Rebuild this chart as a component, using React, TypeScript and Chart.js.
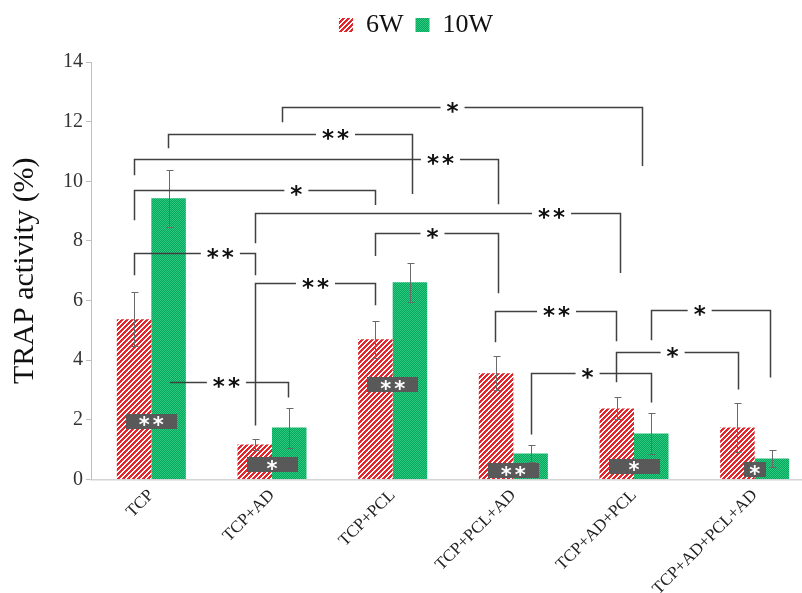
import React, { useEffect, useRef } from 'react';
import { Chart, registerables } from 'chart.js';

Chart.register(...registerables);

// ---------- data ----------
const categories = ['TCP', 'TCP+AD', 'TCP+PCL', 'TCP+PCL+AD', 'TCP+AD+PCL', 'TCP+AD+PCL+AD'];
const seriesNames = ['6W', '10W'];
const values6W = [5.37, 1.17, 4.7, 3.56, 2.38, 1.74];
const errors6W = [0.91, 0.17, 0.62, 0.57, 0.37, 0.82];
const values10W = [9.43, 1.74, 6.61, 0.87, 1.54, 0.7];
const errors10W = [0.95, 0.67, 0.65, 0.29, 0.7, 0.3];
const yTickValues = [0, 2, 4, 6, 8, 10, 12, 14];

// significance marks drawn inside the bars (grey boxes)
const markLabels = ['**', '*', '**', '**', '*', '*'];
const markValues = [1.95, 0.5, 3.17, 0.29, 0.44, 0.32];
const markSpans = [0.42, 0.42, 0.42, 0.42, 0.42, 0.18];

// comparison brackets (x positions in category units, y in data units)
const bracketLabels = ['*', '**', '**', '*', '**', '*', '**', '**', '**', '*', '*', '*', '**'];
const bracketStart = [1.086, 0.141, -0.141, -0.141, 0.862, 1.857, -0.141, 0.862, 2.852, 4.138, 3.847, 3.143, 0.158];
const bracketEnd = [4.063, 2.164, 2.869, 1.857, 3.881, 2.869, 0.862, 1.857, 3.847, 5.124, 4.859, 4.138, 1.136];
const bracketLevel = [12.49, 11.58, 10.74, 9.7, 8.93, 8.26, 7.59, 6.58, 5.64, 5.67, 4.26, 3.56, 3.26];
const bracketStartFoot = [11.98, 11.11, 10.2, 8.69, 7.92, 7.49, 6.85, 1.81, 4.6, 4.67, 3.26, 1.51, 3.26];
const bracketEndFoot = [10.51, 9.57, 9.23, 9.2, 6.92, 6.24, 6.85, 5.84, 4.63, 3.42, 3.02, 2.58, 2.75];
const bracketLabelAt = [2.496, 1.526, 2.396, 1.202, 3.317, 2.33, 0.572, 1.36, 3.358, 4.544, 4.32, 3.615, 0.622];

const CANVAS_W = 833;
const CANVAS_H = 605;

function makeStripe(ctx: CanvasRenderingContext2D) {
  const c = document.createElement('canvas');
  c.width = 5;
  c.height = 5;
  const g = c.getContext('2d')!;
  g.fillStyle = '#ffffff';
  g.fillRect(0, 0, 5, 5);
  g.fillStyle = '#e3262b';
  for (let yy = 0; yy < 5; yy++)
    for (let xx = 0; xx < 5; xx++) if ((xx + yy) % 5 < 3) g.fillRect(xx, yy, 1, 1);
  return ctx.createPattern(c, 'repeat')!;
}

function makeDots(ctx: CanvasRenderingContext2D) {
  const c = document.createElement('canvas');
  c.width = 4;
  c.height = 4;
  const g = c.getContext('2d')!;
  g.fillStyle = '#00a859';
  g.fillRect(0, 0, 4, 4);
  g.fillStyle = '#32c884';
  for (let yy = 0; yy < 4; yy++)
    for (let xx = 0; xx < 4; xx++) if ((xx + yy) % 2 === 0) g.fillRect(xx, yy, 1, 1);
  return ctx.createPattern(c, 'repeat')!;
}

function drawStars(ctx: CanvasRenderingContext2D, text: string, cx: number, cy: number) {
  ctx.textAlign = 'left';
  ctx.textBaseline = 'alphabetic';
  const m = ctx.measureText(text);
  const l = m.actualBoundingBoxLeft;
  const r = m.actualBoundingBoxRight;
  const a = m.actualBoundingBoxAscent;
  const d = m.actualBoundingBoxDescent;
  const x0 = cx - (r - l) / 2;
  const y0 = cy - (d - a) / 2;
  ctx.fillText(text, x0, y0);
  return r + l;
}

const annotationPlugin = {
  id: 'annotationPlugin',
  afterDatasetsDraw(chart: any) {
    const { ctx, scales } = chart;
    const x = scales.x;
    const y = scales.y;
    const errs = [errors6W, errors10W];
    ctx.save();
    // error bars
    chart.data.datasets.forEach((ds: any, di: number) => {
      const meta = chart.getDatasetMeta(di);
      meta.data.forEach((bar: any, i: number) => {
        const v = ds.data[i];
        const e = errs[di][i];
        const top = Math.round(y.getPixelForValue(v + e)) + 0.5;
        const bot = Math.round(y.getPixelForValue(v - e)) + 0.5;
        const bx = Math.round(bar.x) + 0.5;
        ctx.strokeStyle = '#6a6a6a';
        ctx.lineWidth = 1;
        ctx.beginPath();
        ctx.moveTo(bx, top);
        ctx.lineTo(bx, bot);
        ctx.moveTo(bx - 3, top);
        ctx.lineTo(bx + 4, top);
        ctx.moveTo(bx - 3, bot);
        ctx.lineTo(bx + 4, bot);
        ctx.stroke();
      });
    });

    const catW = x.getPixelForValue(1) - x.getPixelForValue(0);

    // grey boxes with white stars
    ctx.font = 'bold 21px "DejaVu Sans"';
    (ctx as any).letterSpacing = '3px';
    markLabels.forEach((lab, i) => {
      const cx = x.getPixelForValue(i);
      const cy = y.getPixelForValue(markValues[i]);
      const w = markSpans[i] * catW;
      const h = 15;
      ctx.fillStyle = '#595959';
      ctx.fillRect(Math.round(cx - w / 2), Math.round(cy - h / 2), Math.round(w), h);
      ctx.fillStyle = '#ffffff';
      drawStars(ctx, lab, cx, cy);
    });

    // brackets
    ctx.font = 'bold 23px "DejaVu Sans"';
    bracketLabels.forEach((lab, i) => {
      const x1 = Math.round(x.getPixelForValue(bracketStart[i])) + 0.5;
      const x2 = Math.round(x.getPixelForValue(bracketEnd[i])) + 0.5;
      const ly = Math.round(y.getPixelForValue(bracketLevel[i])) + 0.5;
      const f1 = y.getPixelForValue(bracketStartFoot[i]);
      const f2 = y.getPixelForValue(bracketEndFoot[i]);
      const sx = x.getPixelForValue(bracketLabelAt[i]);
      ctx.fillStyle = '#111111';
      const w = drawStars(ctx, lab, sx, ly);
      const g1 = sx - w / 2 - 6;
      const g2 = sx + w / 2 + 6;
      ctx.strokeStyle = '#404040';
      ctx.lineWidth = 1.5;
      ctx.beginPath();
      ctx.moveTo(x1, f1);
      ctx.lineTo(x1, ly);
      ctx.lineTo(g1, ly);
      ctx.moveTo(g2, ly);
      ctx.lineTo(x2, ly);
      ctx.lineTo(x2, f2);
      ctx.stroke();
    });
    ctx.restore();
  },
};

const legendTweak = {
  id: 'legendTweak',
  beforeLayout(chart: any) {
    const lg = chart.legend;
    if (lg && !lg.__patched) {
      const orig = lg.fit;
      lg.fit = function () {
        orig.call(this);
        this.height += 14;
      };
      lg.__patched = true;
    }
  },
  afterLayout(chart: any) {
    const lg = chart.legend;
    if (lg) {
      lg.left += 7;
      lg.right += 7;
    }
  },
};

export default function App() {
  const ref = useRef<HTMLCanvasElement>(null);

  useEffect(() => {
    const canvas = ref.current!;
    const ctx = canvas.getContext('2d')!;
    const redFill = makeStripe(ctx);
    const greenFill = makeDots(ctx);

    const chart = new Chart(canvas, {
      type: 'bar',
      data: {
        labels: categories,
        datasets: [
          {
            label: seriesNames[0],
            data: values6W,
            backgroundColor: redFill as any,
            borderWidth: 0,
            categoryPercentage: 0.572,
            barPercentage: 1,
          },
          {
            label: seriesNames[1],
            data: values10W,
            backgroundColor: greenFill as any,
            borderWidth: 0,
            categoryPercentage: 0.572,
            barPercentage: 1,
          },
        ],
      },
      options: {
        responsive: false,
        maintainAspectRatio: false,
        animation: false,
        layout: { padding: { left: 3, right: 18, top: 0, bottom: 0 } },
        plugins: {
          tooltip: { enabled: false },
          legend: {
            display: true,
            position: 'top',
            labels: {
              boxWidth: 14,
              boxHeight: 14,
              padding: 12,
              color: '#111',
              font: { family: '"Liberation Serif", serif', size: 26 },
            },
          },
        },
        scales: {
          x: {
            type: 'category',
            offset: true,
            grid: { display: false, drawTicks: false },
            border: { display: true, color: '#d4d4d4', width: 1.5 },
            ticks: {
              minRotation: 45,
              maxRotation: 45,
              autoSkip: false,
              padding: 6,
              color: '#222',
              font: { family: '"Liberation Serif", serif', size: 17 },
            },
          },
          y: {
            min: 0,
            max: 14,
            afterBuildTicks: (axis: any) => {
              axis.ticks = yTickValues.map((v) => ({ value: v }));
            },
            grid: {
              display: true,
              drawOnChartArea: false,
              drawTicks: true,
              tickLength: 5,
              color: '#bfbfbf',
            },
            border: { display: true, color: '#bfbfbf', width: 1 },
            ticks: {
              padding: 3,
              color: '#333',
              font: { family: '"Liberation Serif", serif', size: 20 },
            },
            title: {
              display: true,
              text: 'TRAP activity (%)',
              color: '#111',
              font: { family: '"Liberation Serif", serif', size: 30 },
              padding: { top: 4, bottom: 17 },
            },
          },
        },
      },
      plugins: [annotationPlugin, legendTweak],
    });
    return () => chart.destroy();
  }, []);

  return (
    <div
      style={{
        position: 'fixed',
        left: 0,
        top: 0,
        width: 802,
        height: 593,
        overflow: 'hidden',
        background: '#ffffff',
      }}
    >
      <canvas
        ref={ref}
        width={CANVAS_W}
        height={CANVAS_H}
        style={{ display: 'block', width: CANVAS_W, height: CANVAS_H }}
      />
    </div>
  );
}
